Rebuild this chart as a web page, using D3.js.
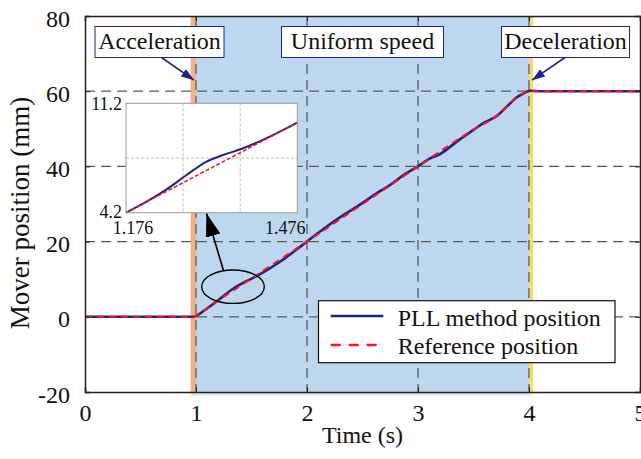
<!DOCTYPE html>
<html>
<head>
<meta charset="utf-8">
<script src="https://cdn.jsdelivr.net/npm/d3@7"></script>
<style>
  html, body { margin: 0; padding: 0; background: #fff; }
  svg { display: block; }
  text { font-family: "Liberation Serif", "Times New Roman", serif; fill: #111; }
</style>
</head>
<body>
<svg id="chart" width="641" height="459"></svg>
<script>
// ---- data ----
const xTicks = [0, 1, 2, 3, 4, 5];
const yTicks = [-20, 0, 20, 40, 60, 80];

// measured mover position (PLL estimate)
const pllTime = [0, 0.97, 1.0, 1.08, 1.22, 1.34, 1.45, 1.55, 1.65, 1.76, 1.87, 2.0, 2.15, 2.33, 2.45, 2.54, 2.63, 2.73, 2.87, 3.0, 3.1, 3.2, 3.35, 3.5, 3.6, 3.71, 3.8, 3.89, 3.95, 4.01, 4.1, 5.0];
const pllPos  = [0, 0, 0.2, 1.8, 4.9, 7.6, 9.4, 10.9, 12.6, 14.7, 17.1, 20.0, 23.4, 27.1, 29.3, 31.1, 32.9, 34.7, 37.7, 40.0, 42.0, 43.3, 46.6, 49.7, 51.7, 53.4, 55.9, 58.4, 59.4, 60.1, 60.0, 60.0];

// commanded reference position
const refTime = [0, 0.96, 1.0, 1.08, 1.2, 1.5, 2.0, 2.5, 3.0, 3.5, 3.71, 3.8, 3.89, 3.96, 4.01, 4.05, 5.0];
const refPos  = [0, 0, 0.3, 1.8, 4.3, 10.2, 20.0, 30.0, 40.0, 49.8, 53.5, 55.9, 58.4, 59.6, 60.0, 60.0, 60.0];

// zoomed window 1.176 s .. 1.476 s
const zoomXTicks = [1.176, 1.476];
const zoomYTicks = [4.2, 11.2];
const zoomPllTime = [1.176, 1.215, 1.247, 1.282, 1.317, 1.346, 1.381, 1.428, 1.476];
const zoomPllPos  = [4.2, 4.97, 5.69, 6.61, 7.47, 7.89, 8.32, 9.07, 9.96];
const zoomRefTime = [1.176, 1.476];
const zoomRefPos  = [4.2, 9.96];

// motion phases
const phaseNames = ["Acceleration", "Uniform speed", "Deceleration"];
const phaseStart = [0.952, 1.0, 4.0];
const phaseEnd   = [1.0, 4.0, 4.036];

const seriesNames = ["PLL method position", "Reference position"];

// ---- styles ----
const phaseFill = ["#f4b183", "#bdd7ee", "#ffd966"];
const navy = "#22228c";
const red = "#ff1414";
const gridColor = "#5c5c5c";
const serif = '"Liberation Serif", "Times New Roman", serif';

// ---- layout ----
const svg = d3.select("#chart");
const W = 641, H = 459;
const m = { left: 85, right: 1, top: 16, bottom: 67 };
const x = d3.scaleLinear().domain([0, 5]).range([m.left, W - m.right]);
const y = d3.scaleLinear().domain([-20, 80]).range([H - m.bottom, m.top]);

const defs = svg.append("defs");
defs.append("filter").attr("id", "soft").attr("x", "-10%").attr("y", "-100%").attr("width", "120%").attr("height", "300%")
  .append("feGaussianBlur").attr("stdDeviation", 1.6);
defs.append("clipPath").attr("id", "plotClip").append("rect")
  .attr("x", x(0)).attr("y", y(80)).attr("width", x(5) - x(0)).attr("height", y(-20) - y(80));

const arrowHead = (id, color, w, l) => {
  defs.append("marker").attr("id", id)
    .attr("viewBox", `0 0 ${l} ${w}`).attr("refX", l).attr("refY", w / 2)
    .attr("markerWidth", l).attr("markerHeight", w).attr("markerUnits", "userSpaceOnUse")
    .attr("orient", "auto")
    .append("path").attr("d", `M0,0L${l},${w / 2}L0,${w}Z`).attr("fill", color);
};
arrowHead("headNavy", navy, 9, 13);
arrowHead("headBlack", "#000", 15, 23);

// phase bands
const bands = d3.range(phaseNames.length);
svg.append("g").selectAll("rect").data(bands).join("rect")
  .attr("x", i => x(phaseStart[i]))
  .attr("width", i => x(phaseEnd[i]) - x(phaseStart[i]))
  .attr("y", y(80)).attr("height", y(-20) - y(80))
  .attr("fill", i => phaseFill[i]);
// soft spill of the bands below the frame
svg.append("g").attr("filter", "url(#soft)").selectAll("rect").data(bands).join("rect")
  .attr("x", i => x(phaseStart[i]))
  .attr("width", i => x(phaseEnd[i]) - x(phaseStart[i]))
  .attr("y", y(-20) - 1).attr("height", 4)
  .attr("fill", i => phaseFill[i]).attr("opacity", 0.8);

// dashed grid
const grid = svg.append("g").attr("stroke", gridColor).attr("stroke-width", 1.3).attr("stroke-dasharray", "10,6");
grid.selectAll("line.v").data(xTicks.slice(1, -1)).join("line").attr("class", "v")
  .attr("x1", d => x(d)).attr("x2", d => x(d)).attr("y1", y(80)).attr("y2", y(-20));
grid.selectAll("line.h").data(yTicks.slice(1, -1)).join("line").attr("class", "h")
  .attr("x1", x(0)).attr("x2", x(5)).attr("y1", d => y(d)).attr("y2", d => y(d));

// position traces
const line = d3.line().x(d => x(d[0])).y(d => y(d[1])).curve(d3.curveMonotoneX);
const pll = pllTime.map((t, i) => [t, pllPos[i]]);
const ref = refTime.map((t, i) => [t, refPos[i]]);
const traces = svg.append("g").attr("clip-path", "url(#plotClip)");
traces.append("path").attr("d", line(pll)).attr("fill", "none")
  .attr("stroke", navy).attr("stroke-width", 2.6);
traces.append("path").attr("d", line(ref)).attr("fill", "none")
  .attr("stroke", red).attr("stroke-width", 2).attr("stroke-dasharray", "7,5");

// axes with inward ticks
const fs = 24;
const fmt = d => String(d);
const axB = svg.append("g").attr("transform", `translate(0,${y(-20)})`)
  .call(d3.axisBottom(x).tickValues(xTicks).tickFormat(fmt).tickSize(-5).tickPadding(12));
const axL = svg.append("g").attr("transform", `translate(${x(0)},0)`)
  .call(d3.axisLeft(y).tickValues(yTicks).tickFormat(fmt).tickSize(-5).tickPadding(15));
svg.append("g").attr("transform", `translate(0,${y(80)})`)
  .call(d3.axisTop(x).tickValues(xTicks).tickFormat("").tickSize(-5));
svg.append("g").attr("transform", `translate(${x(5)},0)`)
  .call(d3.axisRight(y).tickValues(yTicks).tickFormat("").tickSize(-5));
svg.selectAll(".domain").attr("stroke", "#222").attr("stroke-width", 1.5);
svg.selectAll(".tick line").attr("stroke", "#222");
svg.selectAll("g").attr("font-family", null);
svg.selectAll(".tick text").attr("font-size", fs).style("font-family", serif).attr("fill", "#111");
axL.selectAll(".tick text").attr("dy", "0.42em");

// axis titles
svg.append("text").attr("x", 362.5).attr("y", 443)
  .attr("text-anchor", "middle").attr("font-size", fs).text("Time (s)");
svg.append("text").attr("transform", `translate(29,${(y(80) + y(-20)) / 2 + 9}) rotate(-90)`)
  .attr("text-anchor", "middle").attr("font-size", 27).text("Mover position (mm)");

// phase labels with arrows
const labelCx = [159.5, 362.5, 565.5];
const labelW = [129, 162, 128];
const lab = svg.append("g");
bands.forEach(i => {
  lab.append("rect").attr("x", labelCx[i] - labelW[i] / 2).attr("y", 26.5)
    .attr("width", labelW[i]).attr("height", 31).attr("fill", "#fff")
    .attr("stroke", navy).attr("stroke-width", 1);
  lab.append("text").attr("x", labelCx[i]).attr("y", 49).attr("text-anchor", "middle")
    .attr("font-size", fs).text(phaseNames[i]);
});
lab.append("line").attr("x1", 161.5).attr("y1", 57.5).attr("x2", x(1) - 2).attr("y2", y(60) - 11)
  .attr("stroke", navy).attr("stroke-width", 1.6).attr("marker-end", "url(#headNavy)");
lab.append("line").attr("x1", 565).attr("y1", 57.5).attr("x2", x(4) + 3).attr("y2", y(60) - 11)
  .attr("stroke", navy).attr("stroke-width", 1.6).attr("marker-end", "url(#headNavy)");

// highlight ellipse and pointer to the zoom window
svg.append("ellipse").attr("cx", 233).attr("cy", 286.7).attr("rx", 31.3).attr("ry", 16.7)
  .attr("fill", "none").attr("stroke", "#000").attr("stroke-width", 1.4);
svg.append("line").attr("x1", 223.3).attr("y1", 270).attr("x2", 206.5).attr("y2", 213.5)
  .attr("stroke", "#000").attr("stroke-width", 1.6).attr("marker-end", "url(#headBlack)");

// zoom window
const zx = d3.scaleLinear().domain([1.176, 1.476]).range([126, 297.3]);
const zy = d3.scaleLinear().domain([4.2, 11.2]).range([212.7, 103.3]);
const inset = svg.append("g");
inset.append("rect").attr("x", zx(1.176)).attr("y", zy(11.2))
  .attr("width", zx(1.476) - zx(1.176)).attr("height", zy(4.2) - zy(11.2))
  .attr("fill", "#fff");
const zg = inset.append("g").attr("stroke", "#b8b8b8").attr("stroke-width", 0.9).attr("stroke-dasharray", "3,2");
[1 / 3, 2 / 3].forEach(f => {
  const t = zx.invert(zx.range()[0] + f * (zx.range()[1] - zx.range()[0]));
  zg.append("line").attr("x1", zx(t)).attr("x2", zx(t)).attr("y1", zy(11.2)).attr("y2", zy(4.2));
});
const midV = (zoomYTicks[0] + zoomYTicks[1]) / 2;
zg.append("line").attr("x1", zx(1.176)).attr("x2", zx(1.476)).attr("y1", zy(midV)).attr("y2", zy(midV));
const zline = d3.line().x(d => zx(d[0])).y(d => zy(d[1])).curve(d3.curveMonotoneX);
inset.append("path").attr("d", zline(zoomPllTime.map((t, i) => [t, zoomPllPos[i]])))
  .attr("fill", "none").attr("stroke", navy).attr("stroke-width", 2);
inset.append("path").attr("d", zline(zoomRefTime.map((t, i) => [t, zoomRefPos[i]])))
  .attr("fill", "none").attr("stroke", red).attr("stroke-width", 1.5).attr("stroke-dasharray", "4,2");
inset.append("rect").attr("x", zx(1.176)).attr("y", zy(11.2))
  .attr("width", zx(1.476) - zx(1.176)).attr("height", zy(4.2) - zy(11.2))
  .attr("fill", "none").attr("stroke", "#9a9a9a").attr("stroke-width", 1);
const zfs = 18;
inset.append("text").attr("x", 122).attr("y", zy(11.2) + 6.5).attr("text-anchor", "end")
  .attr("font-size", zfs).text(zoomYTicks[1]);
inset.append("text").attr("x", 122).attr("y", zy(4.2) + 5).attr("text-anchor", "end")
  .attr("font-size", zfs).text(zoomYTicks[0]);
zoomXTicks.forEach(t => {
  inset.append("text").attr("x", zx(t) + (t === zoomXTicks[0] ? 7 : -12)).attr("y", 233.5)
    .attr("text-anchor", "middle").attr("font-size", zfs).text(d3.format(".3f")(t));
});

// legend
const lg = svg.append("g");
lg.append("rect").attr("x", 318.5).attr("y", 300.7).attr("width", 296.5).attr("height", 62)
  .attr("fill", "#fff").attr("stroke", "#111").attr("stroke-width", 1.2);
lg.append("line").attr("x1", 330.7).attr("x2", 383.3).attr("y1", 316).attr("y2", 316)
  .attr("stroke", navy).attr("stroke-width", 2.6);
lg.append("line").attr("x1", 330.7).attr("x2", 383.3).attr("y1", 345).attr("y2", 345)
  .attr("stroke", red).attr("stroke-width", 2.4).attr("stroke-dasharray", "10,8");
lg.append("text").attr("x", 397.7).attr("y", 326).attr("font-size", fs).text(seriesNames[0]);
lg.append("text").attr("x", 397.7).attr("y", 353.5).attr("font-size", fs).text(seriesNames[1]);
</script>
</body>
</html>
